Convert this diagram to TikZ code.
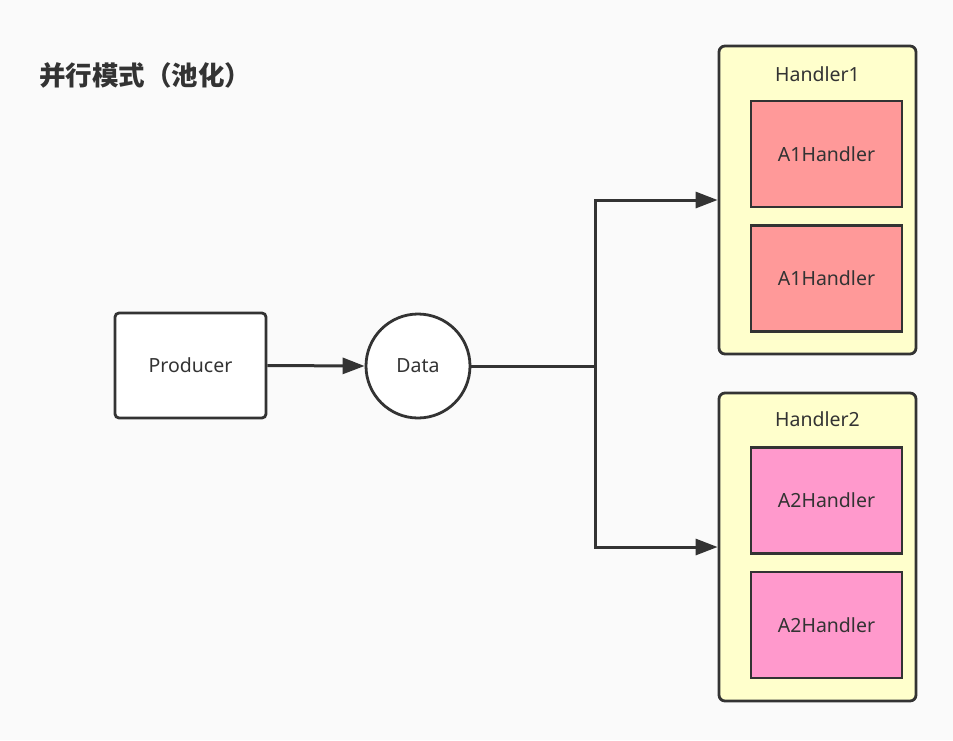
\documentclass[tikz,border=0pt]{standalone}
\usepackage{fontspec}
\setmainfont{Noto Sans}
\newfontfamily\cjk{Noto Sans CJK SC}
\usetikzlibrary{arrows.meta}
\definecolor{bg}{HTML}{FAFAFA}
\definecolor{ink}{HTML}{333333}
\definecolor{yel}{HTML}{FFFFCC}
\definecolor{red1}{HTML}{FF9999}
\definecolor{pink2}{HTML}{FF99CC}
\newcommand{\lowtxt}[1]{\raisebox{-2pt}{#1}}
\begin{document}
\begin{tikzpicture}[x=1pt,y=-1pt,
  lbl/.style={font=\fontsize{19.5}{21}\selectfont, text=ink},
  prod/.style={draw=ink, line width=2.8pt, rounded corners=4pt, fill=white, minimum width=151pt, minimum height=105pt, lbl},
  circ/.style={draw=ink, line width=2.8pt, circle, fill=white, minimum size=104pt, inner sep=0pt, lbl},
  group/.style={draw=ink, line width=2.8pt, rounded corners=6pt, fill=yel, minimum width=197pt, minimum height=308pt},
  inner1/.style={draw=ink, line width=2.8pt, fill=red1, minimum width=151pt, minimum height=106pt, lbl},
  inner2/.style={draw=ink, line width=2.8pt, fill=pink2, minimum width=151pt, minimum height=106pt, lbl},
  conn/.style={draw=ink, line width=3pt},
  arr/.style={conn, -{Triangle[length=22pt,width=16pt]}}
]
\fill[bg] (0,0) rectangle (953,740);
\useasboundingbox (0,0) rectangle (953,740);

\node[anchor=west, font=\cjk\bfseries\fontsize{26.5}{28}\selectfont, text=ink, inner sep=0pt] (title) at (39,75) {并行模式（池化）};

\node[prod] (producer) at (190.5,365.5) {\lowtxt{Producer}};
\node[circ] (data) at (418,366) {\lowtxt{Data}};

\node[group] (h1) at (817.5,200) {};
\node[lbl, anchor=center] (h1l) at (817.5,74) {Handler1};
\node[inner1] (a11) at (826.5,154) {\lowtxt{A1Handler}};
\node[inner1] (a12) at (826.5,278.5) {\lowtxt{A1Handler}};

\node[group] (h2) at (817.5,547) {};
\node[lbl, anchor=center] (h2l) at (817.5,419) {Handler2};
\node[inner2] (a21) at (826.5,500.5) {\lowtxt{A2Handler}};
\node[inner2] (a22) at (826.5,625) {\lowtxt{A2Handler}};

\coordinate (j) at (595,366);
\draw[arr] (producer.east) -- (data.west);
\draw[conn] (data.east) -- (j);
\draw[arr] (j) |- (h1.west);
\draw[arr] (j) |- (h2.west);
\end{tikzpicture}
\end{document}
